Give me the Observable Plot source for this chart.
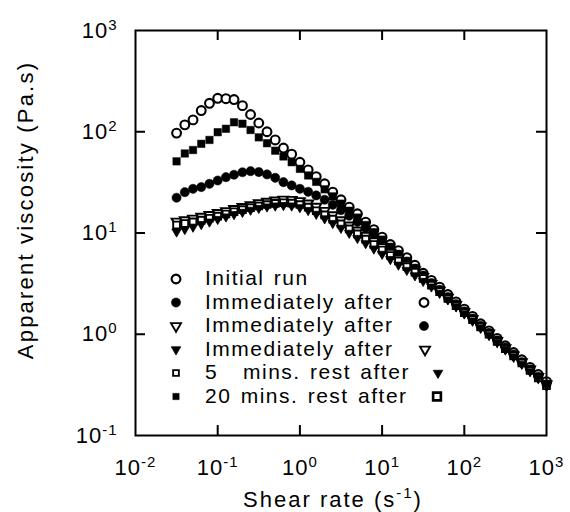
<!DOCTYPE html>
<html><head><meta charset="utf-8">
<script src="https://cdn.jsdelivr.net/npm/d3@7"></script>
<script src="https://cdn.jsdelivr.net/npm/@observablehq/plot@0.6"></script>
<style>body{margin:0;background:#fff;} svg{display:block}</style>
</head><body><div id="chart"></div>
<script>
// ---- data ----
const shear = [0.0316, 0.0398, 0.0501, 0.0631, 0.0794, 0.1, 0.126, 0.158, 0.2, 0.251,
  0.316, 0.398, 0.501, 0.631, 0.794, 1, 1.26, 1.58, 2, 2.51,
  3.16, 3.98, 5.01, 6.31, 7.94, 10, 12.6, 15.8, 20, 25.1,
  31.6, 39.8, 50.1, 63.1, 79.4, 100, 126, 158, 200, 251,
  316, 398, 501, 631, 794, 1000];
const initialRun = [97, 117, 131, 162, 191, 214, 212, 208, 181, 148,
  122, 100, 83, 69, 60, 50, 42, 36, 30.6, 25.3,
  21.3, 18.0, 15.5, 12.8, 10.8, 9.1, 7.7, 6.7, 5.7, 4.8,
  4.0, 3.4, 2.92, 2.47, 2.09, 1.77, 1.50, 1.27, 1.08, 0.91,
  0.77, 0.66, 0.56, 0.47, 0.40, 0.34];
const immediatelyAfter1 = [22.3, 25.3, 27.3, 28.4, 30.6, 33.0, 35.6, 37.6, 39.8, 40.8,
  40.0, 37.9, 35.1, 31.8, 29.5, 27.3, 25.5, 23.5, 21.3, 19.0,
  16.8, 14.8, 12.9, 11.2, 9.7, 8.3, 7.1, 6.1, 5.2, 4.45,
  3.8, 3.2, 2.75, 2.33, 1.98, 1.68, 1.43, 1.21, 1.03, 0.87,
  0.74, 0.63, 0.53, 0.45, 0.38, 0.32];
const immediatelyAfter2 = [13.0, 13.4, 13.9, 14.5, 15.1, 15.8, 16.5, 17.3, 18.1, 18.9,
  19.7, 20.4, 21.0, 21.4, 21.3, 20.7, 19.6, 18.2, 16.6, 15.0,
  13.4, 11.9, 10.6, 9.4, 8.3, 7.3, 6.4, 5.6, 4.9, 4.3,
  3.7, 3.15, 2.7, 2.3, 1.95, 1.66, 1.41, 1.2, 1.02, 0.86,
  0.73, 0.62, 0.53, 0.45, 0.38, 0.32];
const immediatelyAfter3 = [10.3, 10.9, 11.5, 12.2, 12.9, 13.7, 14.5, 15.3, 16.1, 16.9,
  17.6, 18.2, 18.6, 18.8, 18.6, 17.9, 16.8, 15.4, 13.9, 12.5,
  11.2, 10.0, 8.9, 7.9, 7.0, 6.2, 5.5, 4.85, 4.3, 3.8,
  3.35, 2.95, 2.55, 2.2, 1.88, 1.6, 1.36, 1.16, 0.98, 0.84,
  0.71, 0.6, 0.51, 0.43, 0.37, 0.31];
const rest5 = [12.0, 12.4, 12.9, 13.4, 14.0, 14.7, 15.4, 16.2, 17.0, 17.8,
  18.5, 19.1, 19.6, 19.9, 19.7, 19.1, 18.0, 16.6, 15.1, 13.7,
  12.3, 11.0, 9.8, 8.7, 7.7, 6.8, 6.0, 5.3, 4.65, 4.1,
  3.55, 3.05, 2.64, 2.26, 1.92, 1.63, 1.39, 1.18, 1.0, 0.85,
  0.72, 0.61, 0.52, 0.44, 0.37, 0.31];
const rest20 = [51, 61, 66, 76, 83, 99, 107, 124, 120, 104,
  88, 77, 65, 57, 50, 43, 37, 32, 27, 23,
  19.5, 16.6, 14.2, 12.0, 10.2, 8.6, 7.3, 6.2, 5.3, 4.5,
  3.8, 3.2, 2.75, 2.33, 1.98, 1.68, 1.43, 1.21, 1.03, 0.87,
  0.74, 0.63, 0.53, 0.45, 0.38, 0.32];
const seriesNames = ["Initial run", "Immediately after", "Immediately after", "Immediately after", "5 mins. rest after", "20 mins. rest after"];
const xTicks = [0.01, 0.1, 1, 10, 100, 1000];
const xTickLabels = ["10^-2", "10^-1", "10^0", "10^1", "10^2", "10^3"];
const yTicks = [0.1, 1, 10, 100, 1000];
const yTickLabels = ["10^-1", "10^0", "10^1", "10^2", "10^3"];
const xInnerTicks = [0.1, 1, 10, 100];
const yInnerTicks = [1, 10, 100];
const xLabel = ["Shear rate (s", "-1", ")"];
const yLabel = "Apparent viscosity (Pa.s)";

// ---- build table ----
const seriesValues = [initialRun, immediatelyAfter1, immediatelyAfter2, immediatelyAfter3, rest5, rest20];
const table = seriesValues.flatMap((vals, s) => shear.map((x, i) => ({shear: x, eta: vals[i], series: s})));

const s3 = Math.sqrt(3);
const triangleDown = {draw(context, size) {
  const y = -Math.sqrt(size / (3 * s3));
  context.moveTo(0, -2 * y);
  context.lineTo(s3 * y, y);
  context.lineTo(-s3 * y, y);
  context.closePath();
}};
const styles = [
  {symbol: "circle", r: 4.4, fill: "white", stroke: "black", strokeWidth: 2.1},
  {symbol: "circle", r: 4.6, fill: "black", stroke: "black", strokeWidth: 0.5},
  {symbol: triangleDown, r: 3.7, fill: "white", stroke: "black", strokeWidth: 1.9},
  {symbol: triangleDown, r: 3.5, fill: "black", stroke: "black", strokeWidth: 0.8},
  {symbol: "square", r: 3.8, fill: "white", stroke: "black", strokeWidth: 1.9},
  {symbol: "square", r: 4.2, fill: "black", stroke: "black", strokeWidth: 0.5}
];
const drawOrder = [0, 5, 1, 2, 4, 3];
const fmt = (ticks, labels) => d => labels[ticks.indexOf(d)];

const plot = Plot.plot({
  width: 570, height: 512,
  marginLeft: 135, marginRight: 24, marginTop: 30, marginBottom: 77,
  x: {type: "log", domain: [0.01, 1000]},
  y: {type: "log", domain: [0.1, 1000]},
  style: {fontFamily: "'Liberation Sans', Arial, sans-serif", fontSize: "22px", color: "black", background: "white"},
  marks: [
    ...drawOrder.map(s => Plot.dot(table.filter(d => d.series === s), {x: "shear", y: "eta", ...styles[s]})),
    Plot.frame({stroke: "black", strokeWidth: 2}),
    Plot.tickX(xInnerTicks, {x: d => d, insetBottom: 395, stroke: "black", strokeWidth: 2}),
    Plot.tickX(xInnerTicks, {x: d => d, insetTop: 395, stroke: "black", strokeWidth: 2}),
    Plot.tickY(yInnerTicks, {y: d => d, insetRight: 401, stroke: "black", strokeWidth: 2}),
    Plot.tickY(yInnerTicks, {y: d => d, insetLeft: 401, stroke: "black", strokeWidth: 2}),
    Plot.axisX(xTicks, {tickSize: 0, tickPadding: 24, tickFormat: fmt(xTicks, xTickLabels), label: null}),
    Plot.axisY(yTicks, {tickSize: 0, tickPadding: 18, tickFormat: fmt(yTicks, yTickLabels), label: null})
  ]
});
document.getElementById("chart").appendChild(plot);

const svg = d3.select(plot);
// superscripts on tick labels
svg.selectAll('g[aria-label="x-axis tick label"] text, g[aria-label="y-axis tick label"] text').each(function() {
  const t = this.textContent;
  if (!t.includes("^")) return;
  const [b, e] = t.split("^");
  const sel = d3.select(this).text(null).style("letter-spacing", "1px");
  sel.append("tspan").text(b);
  sel.append("tspan").attr("dy", -8).attr("font-size", "15px").text(e);
});

const font = "'Liberation Sans', Arial, sans-serif";
// axis titles
const xt = svg.append("text").attr("x", 333).attr("y", 507).attr("text-anchor", "middle")
  .attr("font-family", font).attr("font-size", 22).style("letter-spacing", "2px");
xt.append("tspan").text(xLabel[0]);
xt.append("tspan").attr("dy", -9).attr("font-size", 15).text(xLabel[1]);
xt.append("tspan").attr("dy", 9).text(xLabel[2]);
svg.append("text").attr("transform", "translate(33,210) rotate(-90)").attr("text-anchor", "middle")
  .attr("font-family", font).attr("font-size", 22).style("letter-spacing", "2.2px").text(yLabel);

// legend
const legendY = [279, 302.5, 326, 349.5, 373, 396.5];
const symType = s => typeof styles[s].symbol === "string"
  ? (styles[s].symbol === "circle" ? d3.symbolCircle : d3.symbolSquare) : styles[s].symbol;
const leg = svg.append("g").attr("text-anchor", "start");
function legendSymbol(s, x, y, scale) {
  const st = styles[s];
  leg.append("path")
    .attr("d", d3.symbol(symType(s), Math.PI * (st.r * scale) ** 2)())
    .attr("transform", `translate(${x},${y})`)
    .attr("fill", st.fill).attr("stroke", st.stroke).attr("stroke-width", st.strokeWidth * (scale > 1 ? 1.4 : 1));
}
seriesNames.forEach((name, i) => {
  legendSymbol(i, 176, legendY[i], i >= 4 ? 0.85 : 1);
  const t = leg.append("text").attr("x", 205).attr("y", legendY[i] + 6).attr("text-anchor", "start")
    .attr("font-family", font).attr("font-size", 21).style("letter-spacing", "1.5px").style("word-spacing", "2px");
  if (name.startsWith("5 ")) {
    t.append("tspan").text("5");
    t.append("tspan").attr("x", 243).text(name.slice(2));
  } else {
    t.text(name);
  }
});
// right-hand column of symbols (as printed in the original)
const rightX = [424, 424, 425, 438, 437];
[0, 1, 2, 3, 4].forEach(s => legendSymbol(s, rightX[s], legendY[s + 1], s === 4 ? 1.15 : 1));
</script>
</body></html>
